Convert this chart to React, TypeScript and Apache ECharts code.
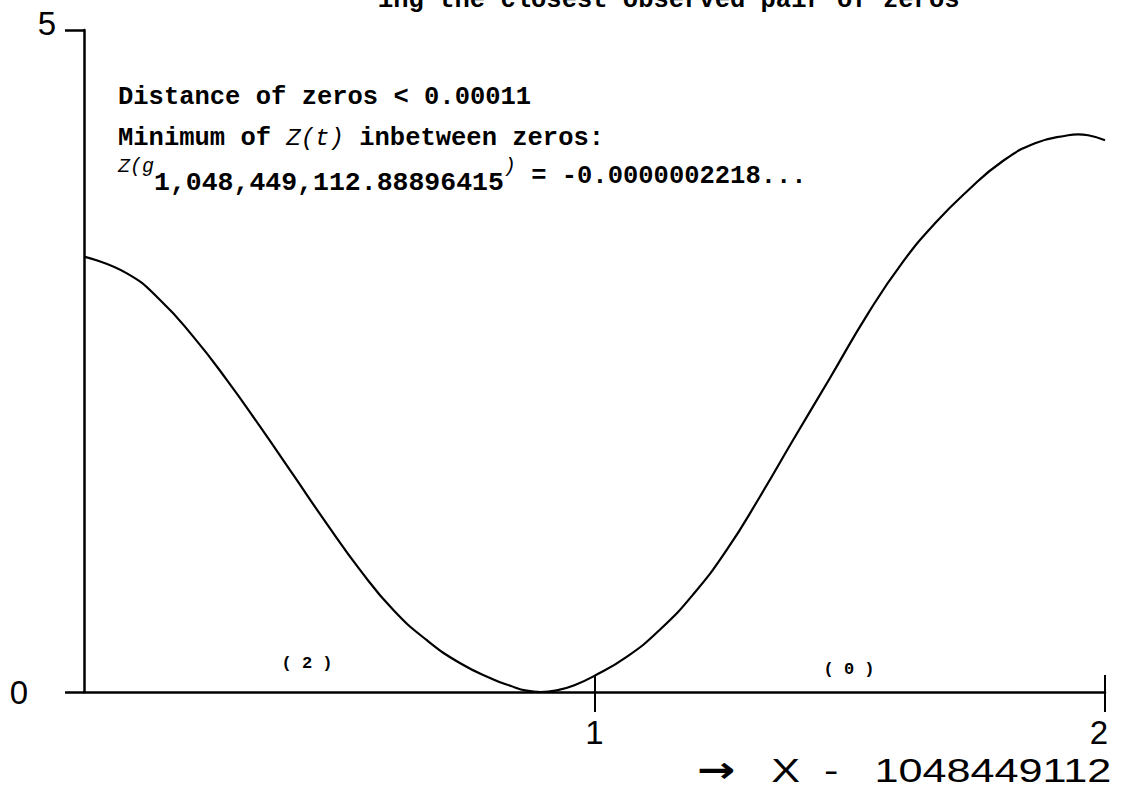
import React, { useEffect, useRef } from "react";
import * as echarts from "echarts";

// x - 1048449112 positions and Z(t) values
const xValues = [
  0, 0.084, 0.149, 0.214, 0.28, 0.345, 0.41, 0.475, 0.541, 0.606, 0.671,
  0.737, 0.802, 0.835, 0.867, 0.895, 0.932, 0.96, 0.998, 1.063, 1.128,
  1.194, 1.259, 1.324, 1.389, 1.461, 1.536, 1.602, 1.667, 1.732, 1.798,
  1.863, 1.928, 1.947, 1.967, 2.0,
];
const zValues = [
  3.288, 3.162, 2.961, 2.684, 2.356, 2.004, 1.639, 1.274, 0.921, 0.619, 0.393,
  0.217, 0.095, 0.047, 0.01, 0.0, 0.018, 0.05, 0.118, 0.265, 0.47,
  0.74, 1.073, 1.475, 1.903, 2.37, 2.86, 3.238, 3.54, 3.79, 4.005,
  4.144, 4.205, 4.212, 4.205, 4.168,
];
const xTickValues = [1, 2];
const yTickValues = [0, 5];
const titleFragment = "ing the closest observed pair of zeros";
const noteDistance = "Distance of zeros < 0.00011";
const noteMinimumA = "Minimum of ";
const noteMinimumZ = "Z(t)";
const noteMinimumB = " inbetween zeros:";
const gramIndex = "1,048,449,112.88896415";
const minValueText = " = -0.0000002218...";
const intervalLabels = ["( 2 )", "( 0 )"];
const axisArrow = "\u2192";
const axisNameText = "   X  -   1048449112";

const MONO = "'Liberation Mono', 'DejaVu Sans Mono', monospace";
const PLOT = "'Liberation Sans', 'DejaVu Sans', sans-serif";
const BLACK = "#000";

export default function App() {
  const ref = useRef<HTMLDivElement>(null);

  useEffect(() => {
    if (!ref.current) return;
    const chart = echarts.init(ref.current, undefined, { renderer: "svg" });

    const tickLabelStyle = { fontFamily: PLOT, fontSize: 33, color: BLACK, lineHeight: 33 };

    const option: any = {
      animation: false,
      backgroundColor: "#fff",
      grid: { left: 84, right: 30, top: 30, bottom: 102, containLabel: false, outerBoundsMode: "none" },
      xAxis: [
        {
          type: "value",
          min: 0,
          max: 2,
          interval: 1,
          axisLine: { show: true, onZero: false, lineStyle: { color: BLACK, width: 2.5 } },
          axisTick: { show: true, inside: false, length: 20, customValues: xTickValues, lineStyle: { color: BLACK, width: 2 } },
          axisLabel: {
            show: true,
            customValues: xTickValues,
            margin: 24,
            formatter: (v: number) => (v === 2 ? "{r|" + v + "}" : "{c|" + v + "}"),
            rich: {
              c: { ...tickLabelStyle },
              r: { ...tickLabelStyle, padding: [0, 12, 0, 0] },
            },
          },
          splitLine: { show: false },
        },
        {
          type: "value",
          min: 0,
          max: 2,
          interval: 1,
          position: "bottom",
          axisLine: { show: false },
          axisTick: { show: true, inside: true, length: 17, customValues: xTickValues, lineStyle: { color: BLACK, width: 2 } },
          axisLabel: { show: false },
          splitLine: { show: false },
        },
      ],
      yAxis: {
        type: "value",
        min: 0,
        max: 5,
        interval: 5,
        axisLine: { show: true, onZero: false, lineStyle: { color: BLACK, width: 2.5 } },
        axisTick: { show: true, inside: false, length: 19, customValues: yTickValues, lineStyle: { color: BLACK, width: 2.5 } },
        axisLabel: {
          show: true,
          customValues: yTickValues,
          margin: 28,
          formatter: (v: number) => (v === 0 ? "{z|" + v + "}" : "{f|" + v + "}"),
          rich: {
            z: { ...tickLabelStyle, padding: [0, 28, 0, 0] },
            f: { ...tickLabelStyle, padding: [0, 0, 14, 0] },
          },
        },
        splitLine: { show: false },
      },
      series: [
        {
          type: "line",
          xAxisIndex: 0,
          data: xValues.map((x, i) => [x, zValues[i]]),
          showSymbol: false,
          smooth: 0.5,
          clip: false,
          lineStyle: { color: BLACK, width: 2.2 },
        },
      ],
      graphic: [
        {
          type: "text",
          x: 378,
          y: 0,
          style: { text: titleFragment, fontFamily: MONO, fontSize: 25.5, fontWeight: "bold", fill: BLACK, textAlign: "left", textVerticalAlign: "middle" },
        },
        {
          type: "text",
          x: 118,
          y: 97,
          style: { text: noteDistance, fontFamily: MONO, fontSize: 25.5, fontWeight: "bold", fill: BLACK, textAlign: "left", textVerticalAlign: "middle" },
        },
        {
          type: "text",
          x: 118,
          y: 138,
          style: {
            text: "{n|" + noteMinimumA + "}{i|" + noteMinimumZ + "}{n|" + noteMinimumB + "}",
            textAlign: "left",
            textVerticalAlign: "middle",
            rich: {
              n: { fontFamily: MONO, fontSize: 25.5, fontWeight: "bold", fill: BLACK, color: BLACK },
              i: { fontFamily: MONO, fontSize: 24, fontStyle: "italic", fill: BLACK, color: BLACK },
            },
          },
        },
        {
          type: "text",
          x: 118,
          y: 176,
          style: {
            text: "{zg|Z(g}{sub|" + gramIndex + "}{zg|)}{eq|" + minValueText + "}",
            textAlign: "left",
            textVerticalAlign: "middle",
            rich: {
              zg: { fontFamily: MONO, fontSize: 20, fontStyle: "italic", lineHeight: 20, verticalAlign: "top", fill: BLACK, color: BLACK },
              sub: { fontFamily: MONO, fontSize: 26.5, fontWeight: "bold", lineHeight: 26, verticalAlign: "bottom", fill: BLACK, color: BLACK },
              eq: { fontFamily: MONO, fontSize: 25.5, fontWeight: "bold", lineHeight: 40, verticalAlign: "middle", fill: BLACK, color: BLACK },
            },
          },
        },
        {
          type: "text",
          x: 307,
          y: 663,
          style: { text: intervalLabels[0], fontFamily: MONO, fontSize: 17, fontWeight: "bold", fill: BLACK, textAlign: "center", textVerticalAlign: "middle" },
        },
        {
          type: "text",
          x: 849,
          y: 669,
          style: { text: intervalLabels[1], fontFamily: MONO, fontSize: 17, fontWeight: "bold", fill: BLACK, textAlign: "center", textVerticalAlign: "middle" },
        },
        {
          type: "text",
          x: 697,
          y: 770,
          scaleX: 1.27,
          style: {
            text: "{a|" + axisArrow + "}{t|" + axisNameText + "}",
            textAlign: "left",
            textVerticalAlign: "middle",
            rich: {
              a: { fontFamily: "'DejaVu Sans', sans-serif", fontSize: 36, fontWeight: "bold", fill: BLACK, color: BLACK, lineHeight: 34 },
              t: { fontFamily: "'Liberation Sans', 'DejaVu Sans', sans-serif", fontSize: 34, fill: BLACK, color: BLACK, lineHeight: 34 },
            },
          },
        },
      ],
    };

    chart.setOption(option);
    return () => chart.dispose();
  }, []);

  return (
    <div
      ref={ref}
      style={{ position: "absolute", left: 0, top: 0, width: 1135, height: 794, background: "#fff" }}
    />
  );
}
